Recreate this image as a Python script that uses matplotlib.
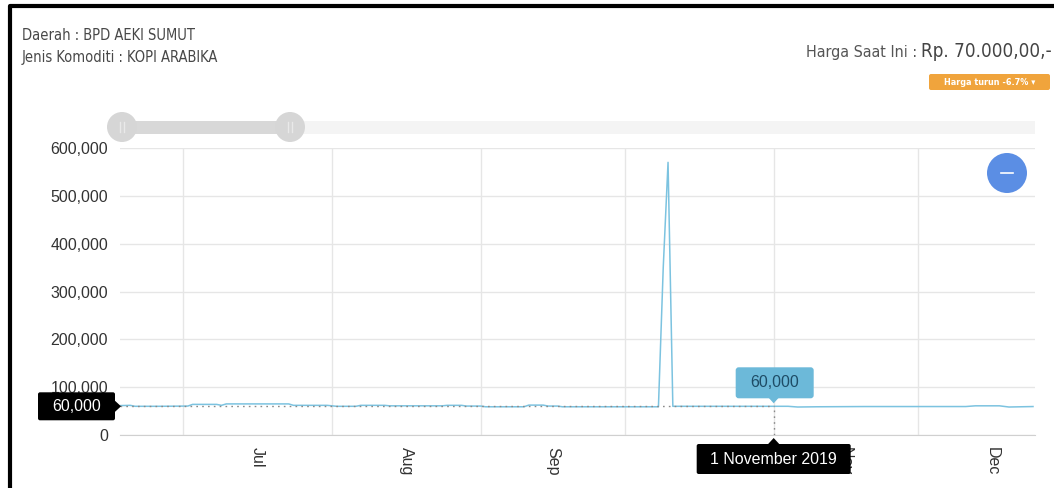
import pandas as pd
import matplotlib
matplotlib.use("Agg")
import matplotlib.pyplot as plt
import matplotlib.dates as mdates
from matplotlib.patches import Circle, FancyBboxPatch, Rectangle, Polygon

# harga kopi arabika (Rp/kg) per tanggal perubahan
dates = ["2019-06-18", "2019-06-20", "2019-06-21", "2019-06-26", "2019-07-02",
         "2019-07-03", "2019-07-08", "2019-07-09", "2019-07-10", "2019-07-23",
         "2019-07-24", "2019-07-31", "2019-08-02", "2019-08-06", "2019-08-07",
         "2019-08-12", "2019-08-13", "2019-08-24", "2019-08-25", "2019-08-28",
         "2019-08-29", "2019-09-01", "2019-09-02", "2019-09-10", "2019-09-11",
         "2019-09-14", "2019-09-15", "2019-09-17", "2019-09-18", "2019-10-08",
         "2019-10-09", "2019-10-10", "2019-10-11", "2019-11-04", "2019-11-06",
         "2019-11-10", "2019-11-20", "2019-12-11", "2019-12-13", "2019-12-18",
         "2019-12-20", "2019-12-25"]
prices = [61500, 62000, 60000, 60000, 60500,
          64000, 64000, 62000, 65000, 65000,
          62000, 62000, 60000, 60000, 62000,
          62000, 61000, 61000, 62000, 62000,
          60500, 60500, 59000, 59000, 62500,
          62500, 60500, 60500, 59000, 59000,
          350000, 570000, 60000, 60000, 58500,
          59000, 59500, 59500, 61000, 61000,
          58500, 59500]

month_starts = ["2019-07-01", "2019-08-01", "2019-09-01", "2019-10-01",
                "2019-11-01", "2019-12-01", "2020-01-01"]
month_names = ["Jul", "Aug", "Sep", "Oct", "Nov", "Dec"]
y_ticks = [0, 100000, 200000, 300000, 400000, 500000, 600000]

hover_date = "2019-11-01"
hover_price = 60000
hover_label = "1 November 2019"

daerah = "BPD AEKI SUMUT"
komoditi = "KOPI ARABIKA"
harga_saat_ini = "Rp. 70.000,00,-"
perubahan = "Harga turun -6.7% \u25BE"

plt.rcParams['font.family'] = ['Liberation Sans', 'DejaVu Sans']
narrow = dict(family=['DejaVu Sans'], stretch='condensed')

W, H = 1054, 488
fig = plt.figure(figsize=(W / 100, H / 100), dpi=100)
fig.patch.set_facecolor("white")

# main chart area
ax = fig.add_axes([120 / W, 1 - 435 / H, 915 / W, 287 / H])
x = pd.to_datetime(dates)
ax.plot(x, prices, color="#7cc3e0", lw=1.1, zorder=3)

ax.set_yticks(y_ticks)
ax.set_yticklabels([f"{v:,}" for v in y_ticks])

starts = pd.to_datetime(month_starts)
mids = [starts[i] + (starts[i + 1] - starts[i]) / 2 for i in range(len(month_names))]
ax.set_xticks(starts[:-1])
ax.set_xticklabels([""] * (len(starts) - 1))
ax.set_xticks(mids, minor=True)
ax.set_xticklabels(month_names, minor=True, rotation=-90)

# limits after the ticks, so the tick positions don't widen the view
x0, x1 = pd.Timestamp("2019-06-17 21:00"), pd.Timestamp("2019-12-25 10:00")
ax.set_xlim(x0, x1)
ax.set_ylim(0, 600000)

ax.tick_params(axis="both", which="both", length=0, colors="#333333", labelsize=11.5)
ax.tick_params(axis="y", pad=8.5)
ax.tick_params(axis="x", which="minor", pad=8.5)
ax.grid(axis="y", color="#e6e6e6", lw=1)
ax.grid(axis="x", which="major", color="#e6e6e6", lw=1)
ax.set_axisbelow(True)
for side in ["top", "left", "right"]:
    ax.spines[side].set_visible(False)
ax.spines["bottom"].set_color("#d0d0d0")

# crosshair at the hovered point
hx = pd.Timestamp(hover_date)
ax.plot([x0, hx], [hover_price, hover_price],
        color="#8a8a8a", lw=1, ls=(0, (1.2, 3)), zorder=4)
ax.plot([hx, hx], [0, hover_price], color="#8a8a8a", lw=1, ls=(0, (1.2, 3)), zorder=4)
ax.set_xlim(x0, x1)

# overlay in pixel coordinates for header, slider and tooltips
deco = fig.add_axes([0, 0, 1, 1], facecolor="none")
deco.set_xlim(0, W)
deco.set_ylim(H, 0)
deco.axis("off")

fig.canvas.draw()
renderer = fig.canvas.get_renderer()
px, py = ax.transData.transform((mdates.date2num(hx), hover_price))
py = H - py
ax_left, ax_bottom = ax.transAxes.transform((0, 0))
ax_bottom = H - ax_bottom

# frame
deco.plot([10, 10, W], [H, 6, 6], color="black", lw=3, solid_capstyle="butt")

# header text
deco.text(22, 40, f"Daerah : {daerah}", fontsize=10.5, color="#484848", **narrow)
deco.text(22, 62, f"Jenis Komoditi : {komoditi}", fontsize=10.5, color="#484848", **narrow)
rp = deco.text(1052, 57, harga_saat_ini, fontsize=13.5, color="#444444", ha="right", **narrow)
rp_left = rp.get_window_extent(renderer).x0
deco.text(rp_left, 57, "Harga Saat Ini : ", fontsize=11.5, color="#555555", ha="right", **narrow)
deco.add_patch(FancyBboxPatch((929, 74), 121, 16, boxstyle="round,pad=0,rounding_size=2",
                              fc="#f0a43c", ec="none"))
deco.text(989.5, 82.5, perubahan, fontsize=6.5, color="white", weight="bold",
          ha="center", va="center", **narrow)

# range slider
deco.add_patch(Rectangle((120, 121), 915, 13, fc="#f4f4f4", ec="none"))
deco.add_patch(Rectangle((122, 121), 168, 13, fc="#d8d8d8", ec="none"))
for hxp in (122, 290):
    deco.add_patch(Circle((hxp, 127), 15, fc="#d6d6d6", ec="none"))
    deco.plot([hxp - 2, hxp - 2], [122, 132], color="#e9e9e9", lw=1)
    deco.plot([hxp + 2, hxp + 2], [122, 132], color="#e9e9e9", lw=1)

# zoom-out button
deco.add_patch(Circle((1007, 173), 20, fc="#5b8ee4", ec="none"))
deco.plot([1001, 1013], [173, 173], color="white", lw=1.2)

# value tooltip at the hovered point
deco.add_patch(FancyBboxPatch((px - 38, py - 39), 78, 31, boxstyle="round,pad=0,rounding_size=3",
                              fc="#6cb9d9", ec="none"))
deco.add_patch(Polygon([[px - 5, py - 8.5], [px + 5, py - 8.5], [px, py - 3]], fc="#6cb9d9", ec="none"))
deco.text(px + 1, py - 23.5, f"{hover_price:,}", fontsize=11.5, color="#1e4c66", ha="center", va="center")

# date tooltip below the axis
deco.add_patch(FancyBboxPatch((px - 77, ax_bottom + 9), 154, 30, boxstyle="round,pad=0,rounding_size=2",
                              fc="black", ec="none"))
deco.add_patch(Polygon([[px - 6, ax_bottom + 9.5], [px + 6, ax_bottom + 9.5], [px, ax_bottom + 3]],
                       fc="black", ec="none"))
deco.text(px, ax_bottom + 24, hover_label, fontsize=11.5, color="white", ha="center", va="center")

# price tooltip on the y axis
deco.add_patch(FancyBboxPatch((38, py - 14), 77, 28, boxstyle="round,pad=0,rounding_size=2",
                              fc="black", ec="none"))
deco.add_patch(Polygon([[114.5, py - 6], [114.5, py + 6], [ax_left + 1, py]], fc="black", ec="none"))
deco.text(76.5, py, f"{hover_price:,}", fontsize=11.5, color="white", ha="center", va="center")

fig.savefig("out.png", dpi=100)
